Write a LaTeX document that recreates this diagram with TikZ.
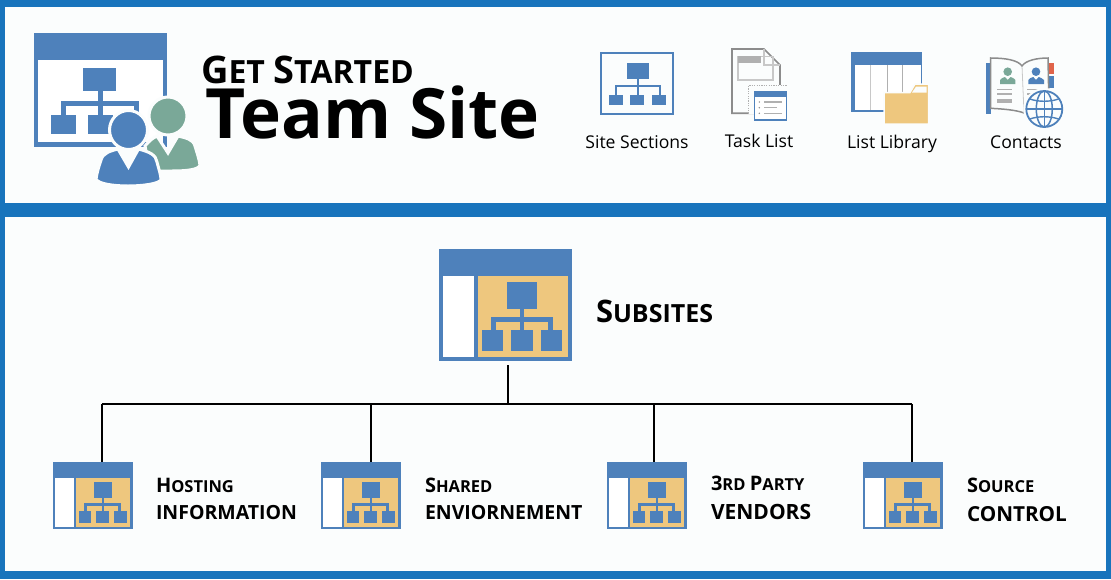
\documentclass[tikz,border=0pt]{standalone}
\usepackage{fontspec}
\setmainfont{Open Sans}
\definecolor{frameblue}{HTML}{1874BC}
\definecolor{panelbg}{HTML}{FBFDFD}
\definecolor{iconblue}{HTML}{4E81BB}
\definecolor{icontan}{HTML}{EEC77E}
\definecolor{icongreen}{HTML}{7AA898}
\definecolor{icongray}{HTML}{8C8C8C}
\definecolor{lightgray2}{HTML}{C8C8C8}
\definecolor{midgray}{HTML}{B0B0B0}
\definecolor{tabred}{HTML}{E0644A}
\tikzset{
  ib/.style={fill=iconblue,draw=none},
  anchorbox/.style={inner sep=0pt,outer sep=0pt,minimum width=#1,draw=none},
  lbl/.style={inner sep=0pt,outer sep=0pt,anchor=base west,align=left,text=black},
  captext/.style={inner sep=0pt,outer sep=0pt,anchor=base,text=black,font=\fontsize{17.6}{20}\selectfont},
  conn/.style={draw=black,line width=1.6pt},
  halo/.style={draw=panelbg,line width=3pt}
}
\newcommand{\bigS}{\fontsize{20}{24}\selectfont}
\newcommand{\smallS}{\fontsize{16.5}{20}\selectfont}
\newcommand{\capS}{\fontsize{19.5}{24}\selectfont}
% icon origin at (#1,#2), scale #3, native size 133 x 112
\newcommand{\siteicon}[3]{%
\begin{scope}[shift={(#1,#2)},scale=#3]
  \fill[iconblue] (0,0) rectangle (133,112);
  \fill[white] (4,27) rectangle (35,108);
  \fill[icontan] (39,27) rectangle (129,108);
  \fill[ib] (68,33) rectangle (98,60);
  \fill[ib] (81,60) rectangle (85,81);
  \fill[ib] (52,68) rectangle (114,73);
  \fill[ib] (52,68) rectangle (57,81);
  \fill[ib] (109,68) rectangle (114,81);
  \fill[ib] (43,81) rectangle (64,102);
  \fill[ib] (72,81) rectangle (94,102);
  \fill[ib] (102,81) rectangle (123,102);
\end{scope}}
\begin{document}
\begin{tikzpicture}[x=1pt,y=-1pt]
\useasboundingbox (0,0) rectangle (1111,579);
\fill[frameblue] (0,0) rectangle (1111,579);
\fill[panelbg] (5,7) rectangle (1106,203);
\fill[panelbg] (5,217) rectangle (1106,571);

% --- main logo
\fill[ib] (34,33) rectangle (167,147);
\fill[white] (38,60) rectangle (163,142);
\fill[ib] (83,68) rectangle (116,91);
\fill[ib] (97.5,91) rectangle (102.5,115);
\fill[ib] (61,101) rectangle (139,106);
\fill[ib] (61,101) rectangle (66,115);
\fill[ib] (133.5,101) rectangle (138.5,115);
\fill[ib] (51,115) rectangle (76,134);
\fill[ib] (87.5,115) rectangle (112.5,134);
% green person
\path[fill=icongreen,halo] (145,146) .. controls (150,140) and (153,138) .. (157,136) -- (168,153) -- (178,136) .. controls (186,138) and (193,139) .. (195,146) .. controls (197,153) and (199,158) .. (200,165) .. controls (199,170) and (185,171) .. (172,171) -- (150,171) -- cycle;
\fill[icongreen,draw=panelbg,line width=3pt] (168,116) ellipse (19 and 19);
% blue person
\path[fill=iconblue,halo] (118,149) -- (128.5,167) -- (138.5,149) .. controls (150,152) and (156,155) .. (157,162) .. controls (159,170) and (161,175) .. (161,180) .. controls (158,184) and (142,186) .. (128,186) .. controls (114,186) and (98,184) .. (96,179) .. controls (97,172) and (99,166) .. (101,160) .. controls (103,153) and (110,151) .. (118,149) -- cycle;
\fill[iconblue,draw=panelbg,line width=3pt] (128.5,130) ellipse (19 and 19.5);

\node[lbl,font=\bfseries] (getstarted) at (201,83) {\fontsize{38}{40}\selectfont G\fontsize{32}{40}\selectfont ET \fontsize{38}{40}\selectfont S\fontsize{32}{40}\selectfont TARTED};
\node[lbl,font=\bfseries] (teamsite) at (205,138) {\fontsize{69.4}{80}\selectfont Team Site};

% --- site sections icon
\draw[iconblue,line width=2pt,fill=panelbg] (600.7,53.3) rectangle (672.7,114.3);
\fill[ib] (627,62.7) rectangle (649,79);
\fill[ib] (636.7,79) rectangle (639,95);
\fill[ib] (615,85.3) rectangle (660.7,87.3);
\fill[ib] (615,85.3) rectangle (617,95);
\fill[ib] (658.7,85.3) rectangle (660.7,95);
\fill[ib] (608.7,95) rectangle (622.7,105.3);
\fill[ib] (630.3,95) rectangle (644.3,105.3);
\fill[ib] (652.3,95) rectangle (666.3,105.3);
\node[captext] (sections) at (637,148) {Site Sections};

% --- task list icon
\draw[icongray,line width=1.7pt,fill=panelbg] (754,113.3) -- (732,113.3) -- (732,49) -- (764,49) -- (780,65) -- (780,90);
\draw[lightgray2,line width=1.2pt] (764,49) -- (764,65) -- (780,65);
\draw[lightgray2,line width=1.4pt] (738,56.5) rectangle (773,80);
\fill[midgray] (738,56) rectangle (760.7,63);
\fill[panelbg] (748.5,85) rectangle (787,114);
\draw[midgray,line width=1.1pt,dash pattern=on 1.2pt off 1.2pt] (748.5,113.5) -- (748.5,85.5) -- (786.7,85.5);
\fill[ib] (754,90.7) rectangle (787.3,120.7);
\fill[white] (755.3,96.7) rectangle (786,119.4);
\fill[midgray] (764,101.3) rectangle (782.3,102.7);
\fill[midgray] (764,107) rectangle (777,108.4);
\fill[midgray] (764,112.6) rectangle (782.3,114);
\fill[icongray] (759.3,102) circle (0.8);
\fill[icongray] (759.3,107.7) circle (0.8);
\fill[icongray] (759.3,113.3) circle (0.8);
\node[captext] (tasklist) at (759,147) {Task List};

% --- list library icon
\fill[ib] (851,52.3) rectangle (922.3,111.7);
\fill[white] (855,65) rectangle (920.5,110);
\fill[lightgray2] (870.2,65) rectangle (871.2,110);
\fill[midgray] (886.6,65) rectangle (888.4,110);
\fill[midgray] (901.5,65) rectangle (903.3,110);
\fill[icontan,draw=panelbg,line width=1.5pt] (884,124) -- (884,92.5) -- (910,92.5) -- (915,84) -- (928.7,84) -- (928.7,124) -- cycle;
\fill[panelbg] (912,92.5) -- (916,86.7) -- (926.5,86.7) -- (926.5,92.5) -- cycle;
\node[captext] (listlib) at (892,148) {List Library};

% --- contacts icon
\fill[ib] (986,63) rectangle (990.5,114);
\fill[tabred] (1049,63) rectangle (1054,74);
\fill[ib] (1049,76) rectangle (1054,88);
\draw[icongray,line width=1.5pt,fill=panelbg] (990.7,58) .. controls (1005,58) and (1018,60) .. (1022,66) .. controls (1026,60) and (1038,58) .. (1048,58) -- (1049,110) -- (1026,113) -- (1024,113) .. controls (1016,110) and (1004,109) .. (990.7,108.3) -- cycle;
\draw[lightgray2,line width=0.8pt] (1022,66) -- (1024,113);
\fill[icongreen] (1007.7,71.7) circle (4.3);
\path[fill=icongreen] (1000,84) -- (1000,80) .. controls (1001,78) and (1003,78) .. (1005,77) -- (1007.7,80) -- (1010.5,77) .. controls (1012,78) and (1015,78) .. (1015.3,80) -- (1015.3,84) -- cycle;
\fill[iconblue] (1036,71.7) circle (4.3);
\path[fill=iconblue] (1028.3,84) -- (1028.3,80) .. controls (1029,78) and (1031,78) .. (1033.3,77) -- (1036,80) -- (1038.7,77) .. controls (1040,78) and (1043,78) .. (1044,80) -- (1044,84) -- cycle;
\fill[midgray] (997,88.7) rectangle (1012,90);
\fill[midgray] (997,93.4) rectangle (1012,94.7);
\fill[midgray] (997,99) rectangle (1012,102.5);
\fill[midgray] (1026.7,88.7) rectangle (1040,90);
\fill[midgray] (1026.7,93.4) rectangle (1040,94.7);
\filldraw[fill=panelbg,draw=panelbg,line width=2pt] (1044.3,109) circle (20);
\draw[iconblue,line width=1.8pt] (1044.3,109) circle (18);
\draw[iconblue,line width=1.5pt] (1044.3,109) ellipse (8 and 18);
\draw[iconblue,line width=1.5pt] (1044.3,91) -- (1044.3,127);
\draw[iconblue,line width=1.5pt] (1026.3,109) -- (1062.3,109);
\draw[iconblue,line width=1.4pt] (1030,99) .. controls (1038,102) and (1050,102) .. (1058.6,99);
\draw[iconblue,line width=1.4pt] (1030,119) .. controls (1038,116) and (1050,116) .. (1058.6,119);
\node[captext] (contacts) at (1026,148) {Contacts};

% --- subsites tree
\node[anchorbox=133pt,minimum height=112pt,anchor=north west] (sub) at (439,249) {};
\siteicon{439}{249}{1}
\node[lbl,font=\bfseries] (subtext) at (596,322) {\fontsize{31}{36}\selectfont S\fontsize{25}{36}\selectfont UBSITES};

\node[anchorbox=80pt,minimum height=67pt,anchor=north west] (hosting) at (53,462) {};
\siteicon{53}{462}{0.6}
\node[anchorbox=80pt,minimum height=67pt,anchor=north west] (shared) at (321,462) {};
\siteicon{321}{462}{0.6}
\node[anchorbox=80pt,minimum height=67pt,anchor=north west] (third) at (607,462) {};
\siteicon{607}{462}{0.6}
\node[anchorbox=80pt,minimum height=67pt,anchor=north west] (source) at (863,462) {};
\siteicon{863}{462}{0.6}

\coordinate (stemtop) at (508,365);
\coordinate (stembot) at (508,404);
\coordinate (busa) at (102,404);
\coordinate (busb) at (371,404);
\coordinate (busc) at (654,404);
\coordinate (busd) at (912,404);
\draw[conn] (stemtop) -- (stembot);
\draw[conn] (busa) -- (busd);
\draw[conn] (busa) -- (busa |- hosting.north);
\draw[conn] (busb) -- (busb |- shared.north);
\draw[conn] (busc) -- (busc |- third.north);
\draw[conn] (busd) -- (busd |- source.north);

\node[lbl,font=\bfseries] (hosttxt) at (156,492) {\bigS H\smallS OSTING};
\node[lbl,font=\bfseries] (hosttxt2) at (156,519) {\capS INFORMATION};
\node[lbl,font=\bfseries] (sharedtxt) at (425,492) {\bigS S\smallS HARED};
\node[lbl,font=\bfseries] (sharedtxt2) at (425,519) {\capS ENVIORNEMENT};
\node[lbl,font=\bfseries] (thirdtxt) at (711,490) {\bigS 3\smallS RD \bigS P\smallS ARTY};
\node[lbl,font=\bfseries] (thirdtxt2) at (711,519) {\fontsize{21}{24}\selectfont VENDORS};
\node[lbl,font=\bfseries] (srctxt) at (967,492) {\bigS S\smallS OURCE};
\node[lbl,font=\bfseries] (srctxt2) at (967,521) {\fontsize{20.7}{24}\selectfont CONTROL};
\end{tikzpicture}
\end{document}
